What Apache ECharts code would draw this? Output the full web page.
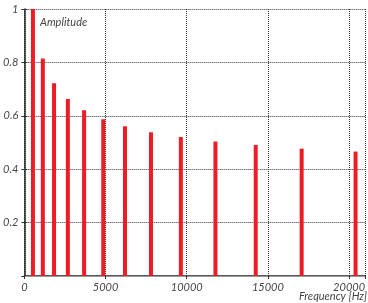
<!DOCTYPE html>
<html>
<head>
<meta charset="utf-8">
<script src="https://cdn.jsdelivr.net/npm/echarts@6/dist/echarts.min.js"></script>
<style>
  html, body { margin: 0; padding: 0; background: #fff; }
  #spectrum { width: 368px; height: 303px; }
</style>
</head>
<body>
<div id="spectrum"></div>
<script>
// harmonic frequencies (Hz) and their amplitudes
var freqs = [530, 1140, 1830, 2680, 3680, 4860, 6200, 7800, 9640, 11770, 14250, 17080, 20400];
var amps  = [1.0, 0.815, 0.722, 0.663, 0.621, 0.587, 0.561, 0.538, 0.521, 0.504, 0.491, 0.477, 0.466];

var xTicks = [0, 5000, 10000, 15000, 20000];
var yTicks = [0.2, 0.4, 0.6, 0.8, 1];

var myChart = echarts.init(document.getElementById('spectrum'));

var points = [];
freqs.forEach(function (f, i) {
    points.push([f, amps[i]]);
});

var labelFont = {
    color: '#444',
    fontSize: 11,
    fontStyle: 'italic',
    fontFamily: 'Lato'
};

var option = {
    animation: false,
    grid: { left: 24, top: 9, right: 0, bottom: 27 },
    xAxis: [{
        type: 'value',
        min: 0,
        max: 21000,
        interval: 5000,
        axisLine: { show: true, lineStyle: { color: '#222', width: 1.5 } },
        axisTick: { show: false },
        axisLabel: Object.assign({
            showMaxLabel: false,
            margin: 6,
            formatter: function (v) { return xTicks.indexOf(v) >= 0 ? String(v) : ''; }
        }, labelFont),
        splitLine: { show: true, lineStyle: { color: '#333', type: 'dotted', width: 1 } }
    }, {
        type: 'value',
        position: 'top',
        min: 0,
        max: 21000,
        interval: 5000,
        axisLine: { show: true, lineStyle: { color: '#999', width: 1 } },
        axisTick: { show: true, inside: true, length: 3, lineStyle: { color: '#333' } },
        axisLabel: { show: false },
        splitLine: { show: false }
    }],
    yAxis: [{
        type: 'value',
        min: 0,
        max: 1,
        interval: 0.2,
        axisLine: { show: true, lineStyle: { color: '#222', width: 1.5 } },
        axisTick: { show: true, inside: true, length: 3, lineStyle: { color: '#333' } },
        axisLabel: Object.assign({
            margin: 6,
            showMinLabel: false,
            formatter: function (v) {
                var r = Math.round(v * 10) / 10;
                return yTicks.indexOf(r) >= 0 ? String(r) : '';
            }
        }, labelFont),
        splitLine: { show: true, lineStyle: { color: '#333', type: 'dotted', width: 1 } }
    }, {
        type: 'value',
        position: 'right',
        min: 0,
        max: 1,
        interval: 0.2,
        axisLine: { show: false },
        axisTick: { show: true, inside: true, length: 3, lineStyle: { color: '#333' } },
        axisLabel: { show: false },
        splitLine: { show: false }
    }],
    graphic: [{
        type: 'text',
        left: 40,
        top: 17,
        style: { text: 'Amplitude', fill: '#444', font: 'italic 11px Lato' }
    }, {
        type: 'text',
        right: 1,
        top: 291,
        style: { text: 'Frequency [Hz]', fill: '#444', font: 'italic 11px Lato' }
    }],
    series: [{
        type: 'bar',
        xAxisIndex: 0,
        yAxisIndex: 0,
        barWidth: 4,
        itemStyle: { color: '#ee1c25' },
        data: points
    }]
};

myChart.setOption(option);
</script>
</body>
</html>
